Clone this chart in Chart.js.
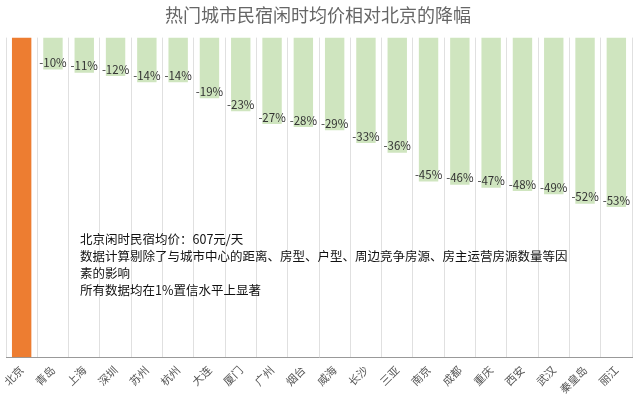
<!DOCTYPE html>
<html><head><meta charset="utf-8">
<script src="https://cdn.jsdelivr.net/npm/chart.js@4"></script>
<style>
body{margin:0;background:#fff;font-family:"Noto Sans CJK SC",sans-serif}
#wrap{position:relative;width:640px;height:408px}
#note{position:absolute;left:80px;top:230px;font-size:12.5px;line-height:17px;color:#111;width:492px}
</style></head><body>
<div id="wrap"><canvas id="c" width="640" height="408"></canvas>
<div id="note">北京闲时民宿均价：607元/天<br>数据计算剔除了与城市中心的距离、房型、户型、周边竞争房源、房主运营房源数量等因素的影响<br>所有数据均在1%置信水平上显著</div></div>
<script>
const cities = ['北京','青岛','上海','深圳','苏州','杭州','大连','厦门','广州','烟台','威海','长沙','三亚','南京','成都','重庆','西安','武汉','秦皇岛','丽江'];
const drops = [-100,-10,-11,-12,-14,-14,-19,-23,-27,-28,-29,-33,-36,-45,-46,-47,-48,-49,-52,-53];
const colors = cities.map((c, i) => i === 0 ? '#ed7d31' : '#cfe5bf');

const labels = {
  id: 'labels',
  afterDatasetsDraw(chart) {
    const ctx = chart.ctx;
    const meta = chart.getDatasetMeta(0);
    ctx.save();
    ctx.font = '11.5px "Noto Sans CJK SC"';
    ctx.fillStyle = '#333';
    ctx.textAlign = 'center';
    ctx.textBaseline = 'bottom';
    meta.data.forEach((bar, i) => {
      if (i === 0) return;
      ctx.fillText(drops[i] + '%', bar.x, bar.y - 1);
    });
    ctx.restore();
  }
};

new Chart(document.getElementById('c'), {
  type: 'bar',
  data: {labels: cities, datasets: [{data: drops, backgroundColor: colors, categoryPercentage: 1, barPercentage: 0.62}]},
  options: {
    responsive: false, animation: false,
    layout: {padding: {left: 4, right: 8, top: 0, bottom: 6}},
    plugins: {
      legend: {display: false}, tooltip: {enabled: false},
      title: {display: true, text: '热门城市民宿闲时均价相对北京的降幅', color: '#666',
        font: {size: 18, weight: 'normal', family: '"Noto Sans CJK SC"'}, padding: {top: 4, bottom: 12}}
    },
    scales: {
      x: {grid: {color: '#e0e0e0', offset: true, drawTicks: false},
        border: {color: '#999'},
        ticks: {maxRotation: 45, minRotation: 45, color: '#555', font: {size: 11, family: '"Noto Sans CJK SC"'}, padding: 6}},
      y: {min: -100, max: 0, display: false}
    }
  },
  plugins: [labels]
});
</script></body></html>
